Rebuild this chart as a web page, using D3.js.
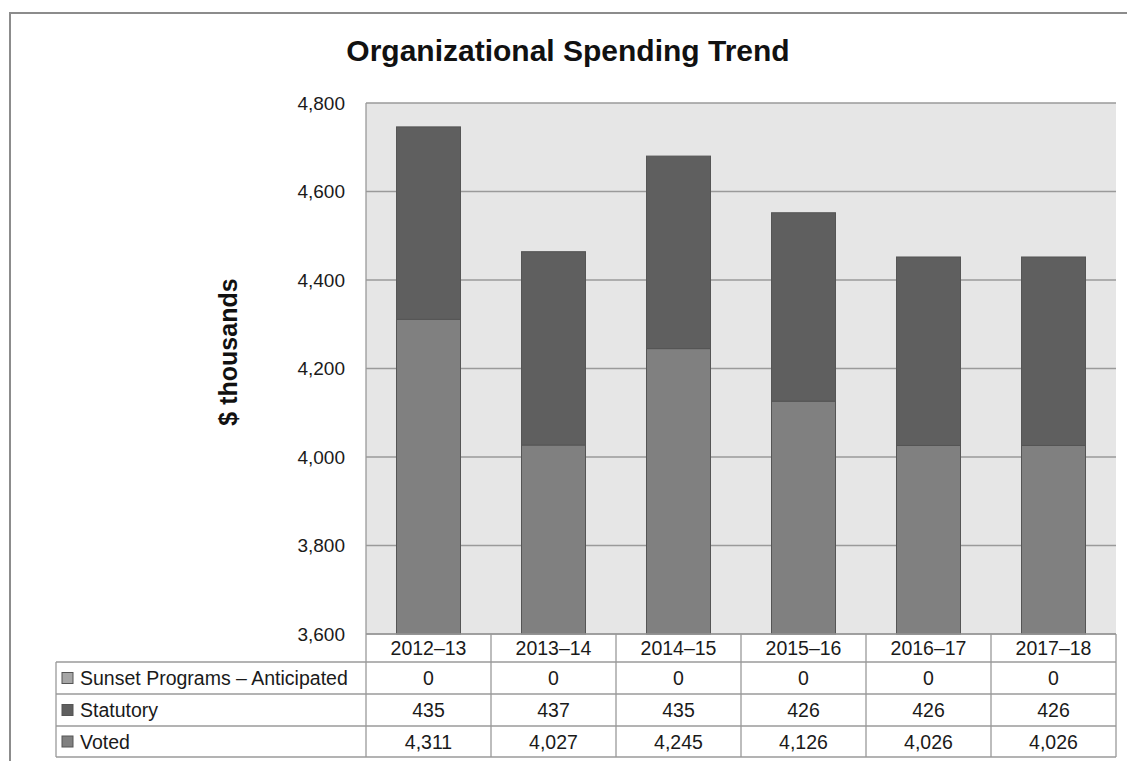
<!DOCTYPE html>
<html>
<head>
<meta charset="utf-8">
<script src="https://cdn.jsdelivr.net/npm/d3@7"></script>
<style>
html,body{margin:0;padding:0;background:#fff;}
svg{display:block;font-family:"Liberation Sans",Arial,sans-serif;}
</style>
</head>
<body>
<svg id="chart" width="1127" height="761"></svg>
<script>
const years = ["2012\u201313","2013\u201314","2014\u201315","2015\u201316","2016\u201317","2017\u201318"];
const seriesNames = ["Sunset Programs \u2013 Anticipated","Statutory","Voted"];
const sunset = [0,0,0,0,0,0];
const statutory = [435,437,435,426,426,426];
const voted = [4311,4027,4245,4126,4026,4026];
const yTicks = [3600,3800,4000,4200,4400,4600,4800];

const colors = {"Voted":"#808080","Statutory":"#5f5f5f","Sunset Programs \u2013 Anticipated":"#a6a6a6"};
const svg = d3.select("#chart");

// outer border
svg.append("rect").attr("x",10).attr("y",13).attr("width",1130).attr("height",800)
  .attr("fill","none").attr("stroke","#8c8c8c").attr("stroke-width",2);

const L=366, R=1116, T=103, B=634;
const x = d3.scaleBand().domain(years).range([L,R]).paddingInner(0.488).paddingOuter(0.244);
const y = d3.scaleLinear().domain([3600,4800]).range([B,T]);

svg.append("rect").attr("x",L).attr("y",T).attr("width",R-L).attr("height",B-T).attr("fill","#e6e6e6");
svg.append("g").selectAll("line").data(yTicks).join("line")
  .attr("x1",L).attr("x2",R).attr("y1",d=>y(d)).attr("y2",d=>y(d))
  .attr("stroke","#9a9a9a").attr("stroke-width",1.3);
svg.append("line").attr("x1",L).attr("x2",L).attr("y1",T).attr("y2",B).attr("stroke","#9a9a9a").attr("stroke-width",1.3);

// axis labels
const yAxis = d3.axisLeft(y).tickValues(yTicks).tickFormat(d3.format(",")).tickSize(0).tickPadding(21);
const ga = svg.append("g").attr("transform",`translate(${L},0)`).call(yAxis);
ga.select(".domain").remove();
ga.selectAll("text").attr("font-size",19).attr("fill","#1a1a1a").attr("font-family","Liberation Sans, Arial, sans-serif");

// stacked bars
const rows = years.map((yr,i)=>({year:yr,"Voted":voted[i],"Statutory":statutory[i],"Sunset Programs \u2013 Anticipated":sunset[i]}));
const stack = d3.stack().keys(["Voted","Statutory","Sunset Programs \u2013 Anticipated"])(rows);
svg.append("g").selectAll("g").data(stack).join("g").attr("fill",d=>colors[d.key])
  .selectAll("rect").data(d=>d.filter(p=>p[1]-p[0]>0)).join("rect")
  .attr("x",d=>x(d.data.year)).attr("width",x.bandwidth())
  .attr("y",d=>y(Math.min(d[1],4800))).attr("height",d=>y(Math.max(d[0],3600))-y(Math.min(d[1],4800)))
  .attr("stroke","#555").attr("stroke-width",1);

// title
svg.append("text").attr("x",568).attr("y",61).attr("text-anchor","middle")
  .attr("font-size",30).attr("font-weight","bold").attr("fill","#111").text("Organizational Spending Trend");
svg.append("text").attr("transform","translate(237,352) rotate(-90)").attr("text-anchor","middle")
  .attr("font-size",25).attr("font-weight","bold").attr("fill","#111").text("$ thousands");

// data table
const rowY = [634,662,694,726,757];
const LL = 56;
const grid = svg.append("g").attr("stroke","#9a9a9a").attr("stroke-width",1.3);
grid.append("line").attr("x1",L).attr("x2",R).attr("y1",rowY[0]).attr("y2",rowY[0]);
rowY.slice(1).forEach(yy=>grid.append("line").attr("x1",LL).attr("x2",R).attr("y1",yy).attr("y2",yy));
grid.append("line").attr("x1",LL).attr("x2",LL).attr("y1",rowY[1]).attr("y2",rowY[4]);
const colEdges = years.map(d=>x(d)-x.step()*x.paddingOuter()).concat([R]);
colEdges.forEach(xx=>grid.append("line").attr("x1",xx).attr("x2",xx).attr("y1",rowY[0]).attr("y2",rowY[4]));

const FS = 19.5;
svg.append("g").selectAll("text").data(years).join("text")
  .attr("x",d=>x(d)+x.bandwidth()/2).attr("y",(rowY[0]+rowY[1])/2+7).attr("text-anchor","middle")
  .attr("font-size",FS).attr("fill","#1a1a1a").text(d=>d);

const tableSeries = [sunset,statutory,voted];
const fmt = d3.format(",");
tableSeries.forEach((vals,r)=>{
  const mid = (rowY[r+1]+rowY[r+2])/2;
  const cy = mid+7;
  svg.append("rect").attr("x",62).attr("y",mid-5.5).attr("width",11).attr("height",11)
    .attr("fill",colors[seriesNames[r]]).attr("stroke","#555").attr("stroke-width",1);
  svg.append("text").attr("x",80).attr("y",cy).attr("font-size",FS).attr("fill","#1a1a1a").text(seriesNames[r]);
  svg.append("g").selectAll("text").data(vals).join("text")
    .attr("x",(d,i)=>x(years[i])+x.bandwidth()/2).attr("y",cy).attr("text-anchor","middle")
    .attr("font-size",FS).attr("fill","#1a1a1a").text(d=>fmt(d));
});
</script>
</body>
</html>
